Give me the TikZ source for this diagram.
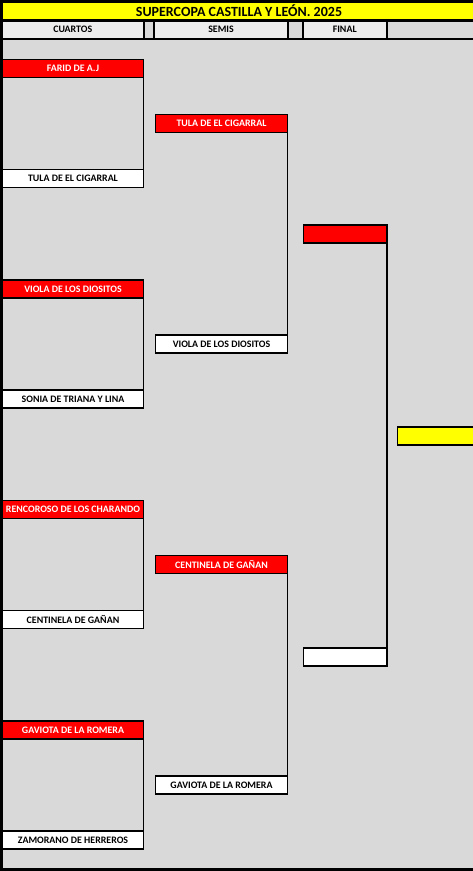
\documentclass[tikz,border=0pt]{standalone}
\usepackage{fontspec}
\setmainfont{Carlito}
\usetikzlibrary{positioning}
\definecolor{sheet}{RGB}{217,217,217}
\definecolor{headgray}{RGB}{237,237,237}
\definecolor{cellred}{RGB}{255,0,0}
\definecolor{cellyellow}{RGB}{255,255,0}

\begin{document}
\begin{tikzpicture}[
    x=1pt, y=-1pt,
    node distance=92pt,
    cell/.style={rectangle, draw=black, line width=1.6pt, outer sep=0pt,
        inner sep=0pt, anchor=north west, minimum height=18pt,
        align=center, font=\bfseries\fontsize{9.9}{11}\selectfont},
    redcell/.style={cell, fill=cellred, text=white},
    whitecell/.style={cell, fill=white, text=black},
    headcell/.style={cell, fill=headgray, minimum height=18.5pt, line width=2pt},
    gapcell/.style={headcell, fill=sheet},
    titlebar/.style={cell, fill=cellyellow, line width=3pt, minimum height=19pt,
        font=\bfseries\fontsize{14}{16}\selectfont},
    bracket/.style={draw=black, line width=1.6pt},
    frame/.style={draw=black, line width=3pt}
]

% Hoja y marco
\fill[sheet] (0,0) rectangle (473,871);
\useasboundingbox (0,0) rectangle (473,871);

% Titulo y cabecera
\node[titlebar, minimum width=475pt] (title) at (1.5,1.5) {SUPERCOPA CASTILLA Y LEÓN. 2025};
\node[headcell, minimum width=142.5pt] (hcuartos) at (1.5,20.5) {CUARTOS};
\node[gapcell, minimum width=10pt] (hgap1) at (144,20.5) {};
\node[headcell, minimum width=134pt] (hsemis) at (154,20.5) {SEMIS};
\node[gapcell, minimum width=14.5pt] (hgap2) at (288,20.5) {};
\node[headcell, minimum width=84.5pt] (hfinal) at (302.5,20.5) {FINAL};
\node[gapcell, minimum width=90pt] (hrest) at (387,20.5) {};
\draw[frame, line width=2.6pt] (hcuartos.south west) -- (hrest.south east);

\draw[frame] (1.5,0) -- (1.5,871);
\draw[frame] (0,869.5) -- (473,869.5);

% Cuartos
\node[redcell, minimum width=141pt] (q1a) at (2.5,59.5) {FARID DE A.J};
\node[whitecell, minimum width=141pt, below=of q1a] (q1b) {TULA DE EL CIGARRAL};
\node[redcell, minimum width=141pt] (q2a) at (2.5,280) {VIOLA DE LOS DIOSITOS};
\node[whitecell, minimum width=141pt, below=of q2a] (q2b) {SONIA DE TRIANA Y LINA};
\node[redcell, minimum width=141pt] (q3a) at (2.5,500.5) {RENCOROSO DE LOS CHARANDO};
\node[whitecell, minimum width=141pt, below=of q3a] (q3b) {CENTINELA DE GAÑAN};
\node[redcell, minimum width=141pt] (q4a) at (2.5,721) {GAVIOTA DE LA ROMERA};
\node[whitecell, minimum width=141pt, below=of q4a] (q4b) {ZAMORANO DE HERREROS};

\draw[bracket] (q1a.south west) -- (q1b.north west);
\draw[bracket] (q1a.south east) -- (q1b.north east);
\draw[bracket] (q2a.south west) -- (q2b.north west);
\draw[bracket] (q2a.south east) -- (q2b.north east);
\draw[bracket] (q3a.south west) -- (q3b.north west);
\draw[bracket] (q3a.south east) -- (q3b.north east);
\draw[bracket] (q4a.south west) -- (q4b.north west);
\draw[bracket] (q4a.south east) -- (q4b.north east);

% Semis
\node[redcell, minimum width=132pt] (s1a) at (155.5,114.5) {TULA DE EL CIGARRAL};
\node[whitecell, minimum width=132pt, below=202.5pt of s1a] (s1b) {VIOLA DE LOS DIOSITOS};
\node[redcell, minimum width=132pt] (s2a) at (155.5,555.5) {CENTINELA DE GAÑAN};
\node[whitecell, minimum width=132pt, below=202.5pt of s2a] (s2b) {GAVIOTA DE LA ROMERA};

\draw[bracket] (s1a.south east) -- (s1b.north east);
\draw[bracket] (s2a.south east) -- (s2b.north east);

% Final y campeon
\node[redcell, minimum width=83.5pt] (f1a) at (303.5,225) {};
\node[whitecell, minimum width=83.5pt, below=405pt of f1a] (f1b) {};
\draw[bracket] (f1a.south east) -- (f1b.north east);

\node[cell, fill=cellyellow, minimum width=80pt] (champ) at (397.5,427) {};

\end{tikzpicture}
\end{document}
